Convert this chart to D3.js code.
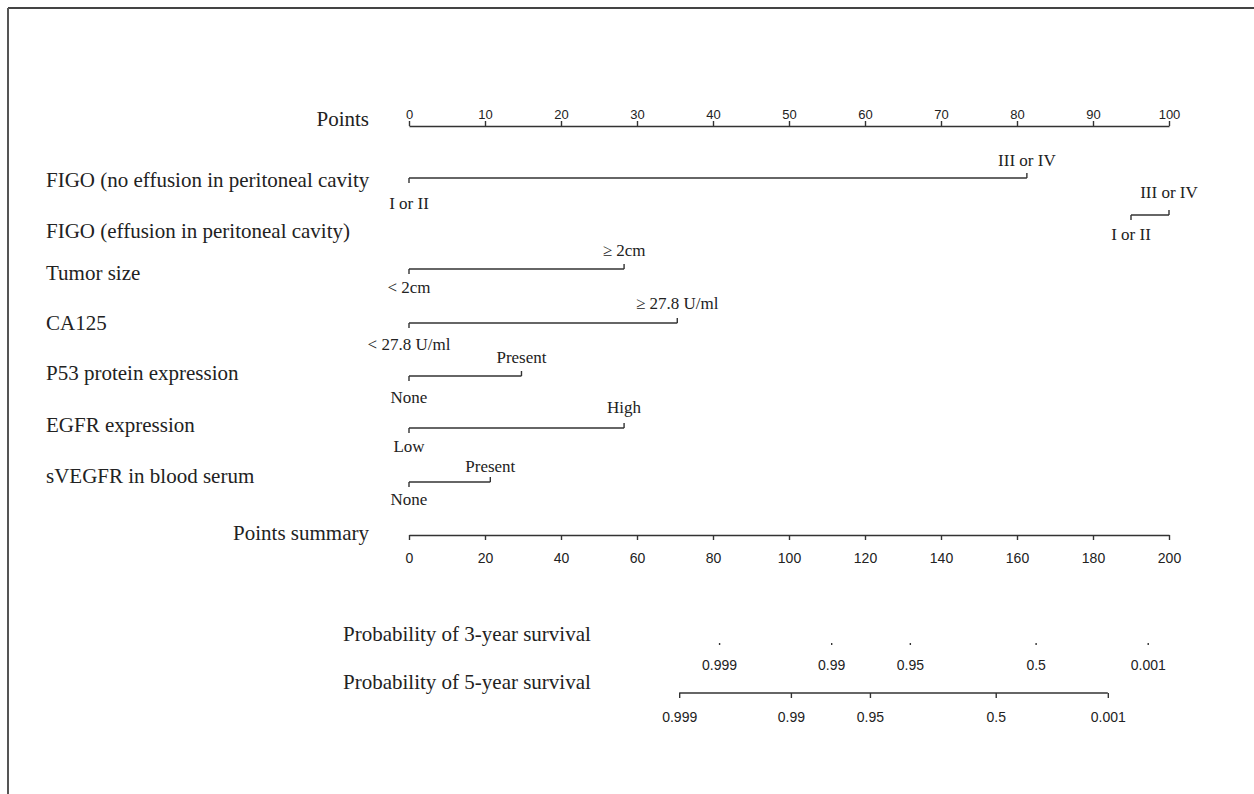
<!DOCTYPE html>
<html>
<head>
<meta charset="utf-8">
<title>Nomogram</title>
<style>
body { margin: 0; background: #fff; }
.serif { font-family: "Liberation Serif", "Times New Roman", serif; fill: #222; }
.axis text { font-family: "Liberation Sans", Arial, sans-serif; fill: #222; }
.axis path, .axis line { stroke: #333; stroke-width: 1.4; }
.row line { stroke: #333; stroke-width: 1.4; }
</style>
</head>
<body>
<script src="https://d3js.org/d3.v7.min.js"></script>
<script>

// variable names
var variables = [
  "FIGO (no effusion in peritoneal cavity",
  "FIGO (effusion in peritoneal cavity)",
  "Tumor size",
  "CA125",
  "P53 protein expression",
  "EGFR expression",
  "sVEGFR in blood serum"
];
// level labels (low / high) and points for each level
var lowLabels  = ["I or II", "I or II", "< 2cm", "< 27.8 U/ml", "None", "Low", "None"];
var highLabels = ["III or IV", "III or IV", "\u2265 2cm", "\u2265 27.8 U/ml", "Present", "High", "Present"];
var lowPoints  = [0, 95, 0, 0, 0, 0, 0];
var highPoints = [81.3, 100, 28.3, 35.3, 14.8, 28.3, 10.7];

// survival probability ticks and the total points where they sit
var probLabels   = ["0.999", "0.99", "0.95", "0.5", "0.001"];
var surv3Points  = [81.6, 111.1, 131.8, 164.9, 194.4];
var surv5Points  = [71.1, 100.5, 121.3, 154.4, 183.9];

var pointsTicks  = d3.range(0, 101, 10);
var totalTicks   = d3.range(0, 201, 20);

// layout
var W = 1254, H = 794;
var rowY      = [178, 215, 269, 323, 376, 428, 482];
var rowLabelY = [187, 238, 280, 330, 380, 432, 483];
var lowLabelY = [209, 240, 293, 350, 403, 452, 505];
var highLabelY = [166, 198, 256, 309, 363, 413, 472];

var svg = d3.select("body").append("svg")
    .attr("width", W)
    .attr("height", H);

// frame
svg.append("line").attr("x1", 8).attr("x2", W).attr("y1", 8).attr("y2", 8)
    .attr("stroke", "#444").attr("stroke-width", 2);
svg.append("line").attr("x1", 8).attr("x2", 8).attr("y1", 8).attr("y2", H)
    .attr("stroke", "#555").attr("stroke-width", 2);

var x = d3.scaleLinear().domain([0, 100]).range([409, 1169]);
var xt = d3.scaleLinear().domain([0, 200]).range([409, 1169]);

// Points axis
var gp = svg.append("g").attr("class", "axis").attr("transform", "translate(0,126)");
gp.call(d3.axisTop(x).tickValues(d3.range(5, 100, 10)).tickSize(3).tickFormat("").tickSizeOuter(0));
gp.call(d3.axisTop(x).tickValues(pointsTicks).tickSize(5).tickPadding(2).tickSizeOuter(0))
  .selectAll("text").style("font-size", "13px");

svg.append("text").attr("class", "serif")
    .attr("x", 369).attr("y", 126)
    .attr("text-anchor", "end")
    .style("font-size", "21px")
    .text("Points");

// variable rows
var rows = svg.selectAll(".row")
    .data(variables)
  .enter().append("g")
    .attr("class", "row");

rows.append("text").attr("class", "serif")
    .attr("x", 46)
    .attr("y", function(d, i) { return rowLabelY[i]; })
    .style("font-size", "21px")
    .text(function(d) { return d; });

rows.append("line")
    .attr("x1", function(d, i) { return x(lowPoints[i]); })
    .attr("x2", function(d, i) { return x(highPoints[i]); })
    .attr("y1", function(d, i) { return rowY[i]; })
    .attr("y2", function(d, i) { return rowY[i]; });

rows.append("line")
    .attr("x1", function(d, i) { return x(lowPoints[i]); })
    .attr("x2", function(d, i) { return x(lowPoints[i]); })
    .attr("y1", function(d, i) { return rowY[i]; })
    .attr("y2", function(d, i) { return rowY[i] + 5; });

rows.append("line")
    .attr("x1", function(d, i) { return x(highPoints[i]); })
    .attr("x2", function(d, i) { return x(highPoints[i]); })
    .attr("y1", function(d, i) { return rowY[i]; })
    .attr("y2", function(d, i) { return rowY[i] - 5; });

rows.append("text").attr("class", "serif")
    .attr("x", function(d, i) { return x(lowPoints[i]); })
    .attr("y", function(d, i) { return lowLabelY[i]; })
    .attr("text-anchor", "middle")
    .style("font-size", "17px")
    .text(function(d, i) { return lowLabels[i]; });

rows.append("text").attr("class", "serif")
    .attr("x", function(d, i) { return x(highPoints[i]); })
    .attr("y", function(d, i) { return highLabelY[i]; })
    .attr("text-anchor", "middle")
    .style("font-size", "17px")
    .text(function(d, i) { return highLabels[i]; });

// Points summary axis
var gt = svg.append("g").attr("class", "axis").attr("transform", "translate(0,535)");
gt.call(d3.axisBottom(xt).tickValues(d3.range(10, 200, 20)).tickSize(3).tickFormat("").tickSizeOuter(0));
gt.call(d3.axisBottom(xt).tickValues(totalTicks).tickSize(5).tickPadding(13).tickSizeOuter(0))
  .selectAll("text").style("font-size", "14px");

svg.append("text").attr("class", "serif")
    .attr("x", 369).attr("y", 540)
    .attr("text-anchor", "end")
    .style("font-size", "21px")
    .text("Points summary");

// 3-year survival (ticks only)
var g3 = svg.append("g").attr("class", "axis").attr("transform", "translate(0,643)");
g3.call(d3.axisBottom(xt).tickValues(surv3Points).tickSize(2).tickPadding(15)
    .tickFormat(function(d, i) { return probLabels[i]; }));
g3.select(".domain").remove();
g3.selectAll("text").style("font-size", "14px");

svg.append("text").attr("class", "serif")
    .attr("x", 343).attr("y", 641)
    .style("font-size", "21px")
    .text("Probability of 3-year survival");

// 5-year survival
var g5 = svg.append("g").attr("class", "axis").attr("transform", "translate(0,693)");
g5.call(d3.axisBottom(xt).tickValues(surv5Points).tickSize(5).tickPadding(14).tickSizeOuter(0)
    .tickFormat(function(d, i) { return probLabels[i]; }));
g5.select(".domain")
    .attr("d", "M" + xt(surv5Points[0]) + ",0H" + xt(surv5Points[surv5Points.length - 1]));
g5.selectAll("text").style("font-size", "14px");

svg.append("text").attr("class", "serif")
    .attr("x", 343).attr("y", 689)
    .style("font-size", "21px")
    .text("Probability of 5-year survival");

</script>
</body>
</html>
